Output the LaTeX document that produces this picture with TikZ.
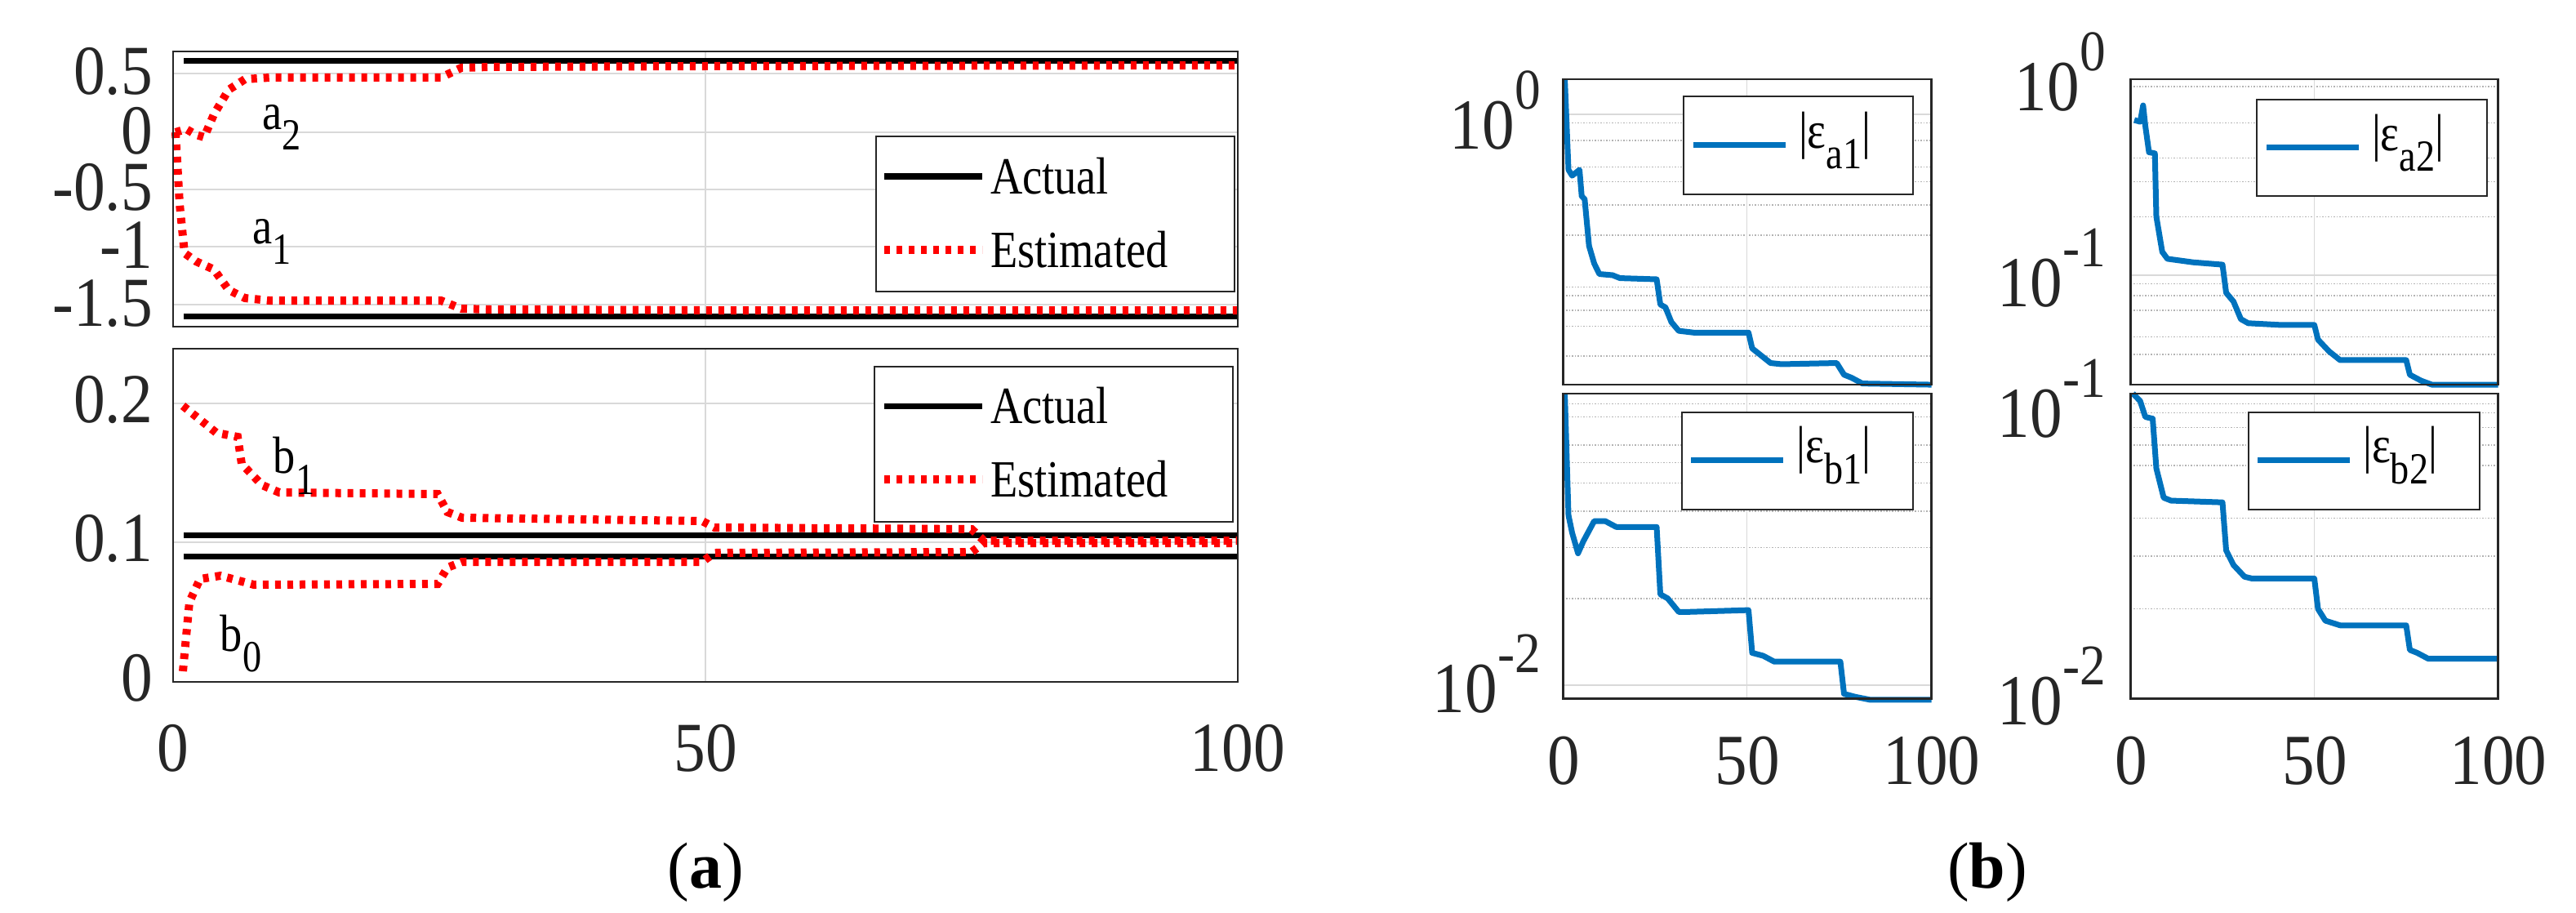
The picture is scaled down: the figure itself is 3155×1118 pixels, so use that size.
\documentclass[tikz,border=0pt]{standalone}
\usepackage{fontspec}
\setmainfont{Liberation Serif}
\definecolor{mblue}{RGB}{0,114,189}
\newcommand\mysub[1]{\raisebox{-0.4em}{\scalebox{0.85}{#1}}}
\newcommand\mysup[1]{\raisebox{0.55em}{\scalebox{0.8}{#1}}}
\begin{document}
\begin{tikzpicture}[x=1pt,y=-1pt,
  ax/.style={draw=black!85,line width=2.5pt},
  grid/.style={draw=black!15,line width=1.5pt},
  dgrid/.style={draw=black!30,line width=1.5pt,dotted},
  act/.style={draw=black,line width=7pt},
  est/.style={draw=red,line width=10pt,dash pattern=on 7pt off 8pt},
  err/.style={draw=mblue,line width=7pt,line join=round},
  tick/.style={font=\fontsize{86}{86}\selectfont,text=black!85,xscale=0.9},
  btick/.style={font=\fontsize{88}{88}\selectfont,text=black!85,xscale=0.9},
  leg/.style={font=\fontsize{64}{64}\selectfont,xscale=0.85,anchor=west},
  lab/.style={font=\fontsize{64}{64}\selectfont,xscale=0.85},
  lbox/.style={draw=black!85,line width=2pt,fill=white}]
\useasboundingbox (0,0) rectangle (3155,1118);
% ---------- (a) top
\draw[grid] (864,63) -- (864,400);
\foreach \y in {90,162,232,302,373} \draw[grid] (212,\y) -- (1516,\y);
\draw[act] (225,75) -- (1516,75);
\draw[act] (225,387) -- (1516,387);
\draw[est] (215,162) -- (228,158) -- (240,165) -- (250,168) -- (262,140) -- (280,110) -- (300,97) -- (330,95) -- (540,95) -- (565,83) -- (600,82) -- (864,81) -- (1516,80);
\draw[est] (215,162) -- (220,250) -- (226,310) -- (240,320) -- (262,330) -- (280,355) -- (300,365) -- (330,368) -- (540,368) -- (565,378) -- (600,379) -- (864,380) -- (1516,380);
\draw[ax] (212,63) rectangle (1516,400);
\node[lab] (la2) at (345,156) {a\mysub{2}};
\node[lab] (la1) at (333,296) {a\mysub{1}};
\node[lbox,minimum width=439pt,minimum height=190pt,anchor=north west] (lg1) at (1072,166) {};
\draw[act] (1083,216) -- (1203,216);
\draw[est] (1083,306) -- (1203,306);
\node[leg] (t1) at (1210,216) {Actual};
\node[leg] (t2) at (1210,306) {Estimated};
\foreach \v/\y in {0.5/88,0/160,-0.5/230,-1/300,-1.5/372} \node[tick,anchor=east] at (190,\y) {\v};
% ---------- (a) bottom
\draw[grid] (864,427) -- (864,835);
\foreach \y in {494,664} \draw[grid] (212,\y) -- (1516,\y);
\draw[act] (225,655) -- (1516,655);
\draw[act] (225,681) -- (1516,681);
\draw[est] (224,497) -- (265,530) -- (291,535) -- (296,568) -- (321,594) -- (342,603) -- (536,605) -- (548,627) -- (566,634) -- (860,638) -- (875,646) -- (1190,648) -- (1205,662) -- (1516,662);
\draw[est] (224,822) -- (232,737) -- (245,709) -- (270,705) -- (311,716) -- (536,715) -- (548,695) -- (566,688) -- (860,688) -- (875,677) -- (1190,676) -- (1205,665) -- (1516,665);
\draw[ax] (212,427) rectangle (1516,835);
\node[lab] (lb1) at (360,570) {b\mysub{1}};
\node[lab] (lb0) at (295,788) {b\mysub{0}};
\node[lbox,minimum width=439pt,minimum height=190pt,anchor=north west] (lg2) at (1070,448) {};
\draw[act] (1083,497) -- (1203,497);
\draw[est] (1083,587) -- (1203,587);
\node[leg] (t3) at (1210,497) {Actual};
\node[leg] (t4) at (1210,587) {Estimated};
\foreach \v/\y in {0.2/490,0.1/660,0/830} \node[tick,anchor=east] at (190,\y) {\v};
\foreach \v/\x in {0/212,50/864,100/1516} \node[tick] at (\x,916) {\v};
\node[font=\fontsize{80}{80}\selectfont] (ca) at (864,1068) {(\textbf{a})};
% ---------- (b)
\begin{scope}[shift={(1750,0)},xscale=0.9,yscale=0.717]
 \foreach \y in {210,240,285,310,350,402,490,505,530,557,608} \draw[dgrid] (183,\y) -- (684,\y);
 \draw[grid] (183,195) -- (684,195);
 \foreach \y in {690,712,760,790,825,873,935,1022} \draw[dgrid] (183,\y) -- (684,\y);
 \draw[grid] (183,1170) -- (684,1170);
 \foreach \y in {148,210,270,310,370,485,505,530,575,605} \draw[dgrid] (955,\y) -- (1455,\y);
 \draw[grid] (955,470) -- (1455,470);
 \foreach \y in {690,705,730,760,795,885,950,1040} \draw[dgrid] (955,\y) -- (1455,\y);
 \foreach \x in {433,1205} {\draw[grid] (\x,135) -- (\x,657); \draw[grid] (\x,672) -- (\x,1193);}
 \draw[err] (185,135)--(190,290)--(195,300)--(205,290)--(208,335)--(212,340)--(218,420)--(225,450)--(232,468)--(250,470)--(260,475)--(310,477)--(315,520)--(322,525)--(330,550)--(340,565)--(360,568)--(435,568)--(440,595)--(455,610)--(465,620)--(480,622)--(555,620)--(565,640)--(575,645)--(590,655)--(684,657);
 \draw[err] (960,205)--(968,208)--(972,180)--(975,215)--(980,260)--(988,262)--(990,370)--(998,430)--(1005,442)--(1040,448)--(1080,452)--(1085,500)--(1095,515)--(1105,545)--(1115,552)--(1160,555)--(1205,555)--(1210,580)--(1225,600)--(1240,615)--(1330,615)--(1335,640)--(1350,650)--(1365,657)--(1455,657);
 \draw[err] (185,672)--(190,880)--(195,910)--(203,945)--(210,925)--(225,890)--(240,890)--(255,900)--(310,900)--(315,1015)--(325,1022)--(340,1045)--(355,1045)--(435,1042)--(440,1115)--(455,1120)--(470,1130)--(560,1130)--(565,1185)--(580,1190)--(600,1195)--(684,1195);
 \draw[err] (958,672)--(968,685)--(975,712)--(985,715)--(990,800)--(1000,850)--(1010,855)--(1080,858)--(1085,940)--(1095,965)--(1110,985)--(1120,988)--(1205,988)--(1210,1040)--(1220,1060)--(1240,1068)--(1330,1068)--(1335,1110)--(1345,1115)--(1360,1125)--(1455,1125);
 \draw[ax] (183,135) rectangle (684,657);
 \draw[ax] (183,672) rectangle (684,1193);
 \draw[ax] (955,135) rectangle (1455,657);
 \draw[ax] (955,672) rectangle (1455,1193);
 \draw[lbox] (347,165) rectangle (659,332);
 \draw[err] (360,248) -- (485,248);
 \node[lab,anchor=west] (e1) at (500,240) {|ε\mysub{a1}|};
 \draw[lbox] (1127,170) rectangle (1440,335);
 \draw[err] (1140,252) -- (1265,252);
 \node[lab,anchor=west] (e2) at (1280,244) {|ε\mysub{a2}|};
 \draw[lbox] (344,704) rectangle (659,870);
 \draw[err] (357,786) -- (482,786);
 \node[lab,anchor=west] (e3) at (497,778) {|ε\mysub{b1}|};
 \draw[lbox] (1115,704) rectangle (1430,870);
 \draw[err] (1128,786) -- (1253,786);
 \node[lab,anchor=west] (e4) at (1268,778) {|ε\mysub{b2}|};
\end{scope}
\node[btick,anchor=east] at (1890,135) {10\mysup{0}};
\node[btick,anchor=east] at (1890,825) {10\mysup{-2}};
\node[btick,anchor=east] at (2582,88) {10\mysup{0}};
\node[btick,anchor=east] at (2582,328) {10\mysup{-1}};
\node[btick,anchor=east] at (2582,488) {10\mysup{-1}};
\node[btick,anchor=east] at (2582,840) {10\mysup{-2}};
\foreach \v/\x in {0/1915,50/2140,100/2366,0/2610,50/2835,100/3060} \node[btick] at (\x,932) {\v};
\node[font=\fontsize{80}{80}\selectfont] (cb) at (2434,1068) {(\textbf{b})};
\end{tikzpicture}
\end{document}
